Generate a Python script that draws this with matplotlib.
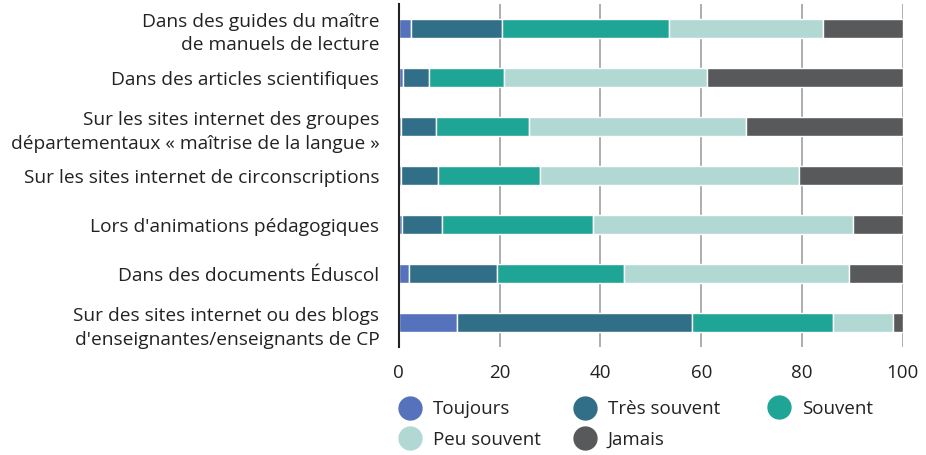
import matplotlib
matplotlib.use("Agg")
import matplotlib.pyplot as plt
from matplotlib.lines import Line2D
import numpy as np

plt.rcParams['font.family'] = ['Open Sans', 'DejaVu Sans']

categories = [
    "Dans des guides du maître\nde manuels de lecture",
    "Dans des articles scientifiques",
    "Sur les sites internet des groupes\ndépartementaux « maîtrise de la langue »",
    "Sur les sites internet de circonscriptions",
    "Lors d'animations pédagogiques",
    "Dans des documents Éduscol",
    "Sur des sites internet ou des blogs\nd'enseignantes/enseignants de CP",
]
series_names = ["Toujours", "Très souvent", "Souvent", "Peu souvent", "Jamais"]
toujours     = [2.5, 0.8, 0.4, 0.4, 0.7, 2.1, 11.6]
tres_souvent = [17.9, 5.2, 6.9, 7.3, 7.9, 17.3, 46.5]
souvent      = [33.3, 14.8, 18.6, 20.4, 29.9, 25.2, 28.1]
peu_souvent  = [30.4, 40.3, 43.0, 51.3, 51.7, 44.7, 11.8]
jamais       = [15.9, 38.9, 31.1, 20.6, 9.8, 10.7, 2.0]
colors = ["#5672bc", "#316e87", "#1ea596", "#b2d8d4", "#58595b"]
xticks = [0, 20, 40, 60, 80, 100]

series = [toujours, tres_souvent, souvent, peu_souvent, jamais]

W, H = 926, 455
fig = plt.figure(figsize=(W / 100, H / 100), dpi=100)
ax = fig.add_axes([0.4306, 0.237, 0.5444, 0.754])

y = np.arange(len(categories))
left = np.zeros(len(categories))
for vals, col, name in zip(series, colors, series_names):
    ax.barh(y, vals, left=left, height=0.39, color=col, edgecolor="white",
            linewidth=1, label=name, zorder=3)
    left += np.array(vals)

ax.set_xlim(0, 100)
ax.set_ylim(len(categories) - 0.5, -0.5)
ax.set_yticks(y)
ax.set_yticklabels(categories, fontsize=13.8, color="#222222", linespacing=1.42)
ax.set_xticks(xticks)
ax.set_xticklabels([str(t) for t in xticks], fontsize=13.5, color="#222222")
ax.tick_params(axis="y", length=0, pad=14)
ax.tick_params(axis="x", length=0, pad=12)
ax.grid(axis="x", color="#a0a0a0", linewidth=1.2, zorder=0)
for s in ["top", "right", "bottom"]:
    ax.spines[s].set_visible(False)
ax.spines["left"].set_color("#222222")
ax.spines["left"].set_linewidth(1.5)
ax.spines["left"].set_zorder(4)

handles = [Line2D([0], [0], marker="o", linestyle="", markersize=16.5,
                  markerfacecolor=c, markeredgecolor=c, label=n)
           for c, n in zip(colors, series_names)]

# legend laid out in three columns (row-wise reading order)
legend_cols = [[0, 3], [1, 4], [2]]
col_centers_px = [410, 585, 779]
for idxs, cx in zip(legend_cols, col_centers_px):
    cy = 409 if len(idxs) == 1 else (409 + 440) / 2
    leg = fig.legend([handles[i] for i in idxs], [series_names[i] for i in idxs],
                     loc="center left", bbox_to_anchor=((cx - 11.25) / W, 1 - cy / H),
                     frameon=False, fontsize=13.5, handletextpad=0.62,
                     labelspacing=0.66, handlelength=1.2, borderaxespad=0,
                     borderpad=0, labelcolor="#222222")

fig.savefig("out.png", dpi=100)
